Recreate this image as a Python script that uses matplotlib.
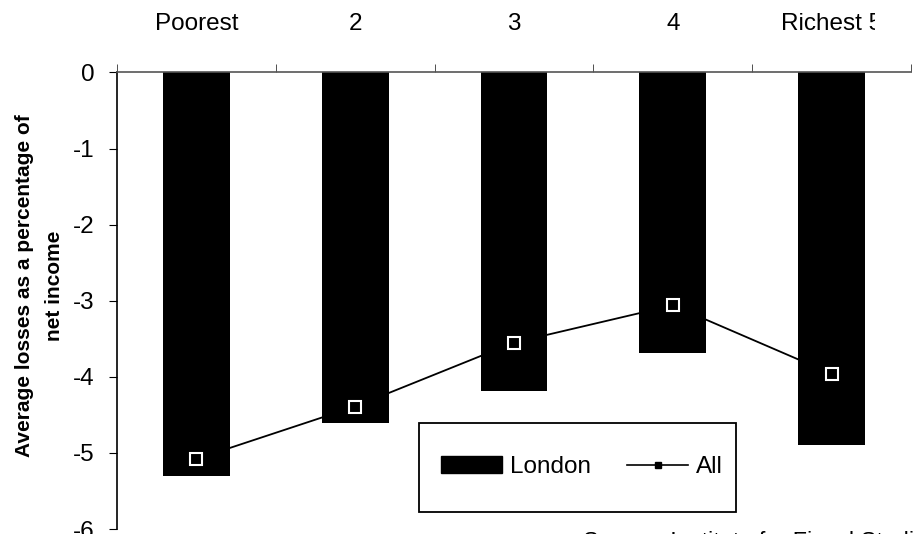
import matplotlib
matplotlib.use("Agg")
import matplotlib.pyplot as plt
from matplotlib.lines import Line2D
from matplotlib.patches import Patch, Rectangle
from matplotlib.transforms import Bbox
import numpy as np

categories = ["Poorest", "2", "3", "4", "Richest 5"]
london = [-5.30, -4.61, -4.18, -3.69, -4.90]
all_hh = [-5.08, -4.39, -3.55, -3.06, -3.96]
yticks = [0, -1, -2, -3, -4, -5, -6]

plt.rcParams['font.family'] = ['Liberation Sans', 'DejaVu Sans']

W, H = 914, 534
fig = plt.figure(figsize=(W / 100, H / 100), dpi=100)
ax = fig.add_axes([117 / W, 1 - 529 / H, 794 / W, (529 - 72.5) / H])

x = np.arange(len(categories))
ax.plot(x, all_hh, color='black', lw=1.3, zorder=1)
ax.bar(x, london, width=0.42, color='black', zorder=2)
ax.plot(x, all_hh, linestyle='none', marker='s', markersize=9,
        markerfacecolor='black', markeredgecolor='white', markeredgewidth=1.5, zorder=3)

ax.set_xlim(-0.5, 4.5)
ax.set_ylim(-6, 0)

ax.xaxis.set_ticks_position('top')
ax.set_xticks(x)
ax.set_xticklabels(categories, fontsize=17.5)
ax.set_xticks(np.arange(-0.5, 5.0, 1.0), minor=True)
ax.tick_params(axis='x', which='major', length=0, pad=27)
ax.tick_params(axis='x', which='minor', length=6, direction='out', color='#333333')

ax.set_yticks(yticks)
ax.set_yticklabels([str(v) for v in yticks], fontsize=17.5)
ax.tick_params(axis='y', length=6, direction='out', pad=10)

for s in ['right', 'bottom']:
    ax.spines[s].set_visible(False)
ax.spines['top'].set_color('#555555')
ax.spines['top'].set_linewidth(1.2)
ax.spines['left'].set_color('black')
ax.spines['left'].set_linewidth(1.2)

# clip the last category label at the right like the reference
for lbl in ax.get_xticklabels():
    lbl.set_clip_box(Bbox.from_extents(0, 0, 875, H))
    lbl.set_clip_on(True)

fig.text(25 / W, 1 - 286 / H, "Average losses as a percentage of",
         rotation=90, ha='center', va='center', fontsize=15, fontweight='bold')
fig.text(55 / W, 1 - 286 / H, "net income",
         rotation=90, ha='center', va='center', fontsize=15, fontweight='bold')

# legend frame
ax.add_patch(Rectangle((0.3804, 0.0372), 0.3992, 0.195, transform=ax.transAxes,
                       facecolor='white', edgecolor='black', lw=1.3, zorder=4))
handles = [Patch(facecolor='black', edgecolor='black', label='London'),
           Line2D([0], [0], color='black', lw=1.2, marker='s', markersize=5,
                  markerfacecolor='black', markeredgecolor='black', label='All')]
leg = ax.legend(handles=handles, loc='center left', ncol=2,
                bbox_to_anchor=((441 - 117) / 794, (529 - 467) / 456.5),
                borderaxespad=0, borderpad=0, frameon=False,
                fontsize=17.5, handlelength=2.5, handletextpad=0.33,
                columnspacing=1.5, handleheight=0.66)
leg.set_zorder(5)

fig.text(583 / W, 1 - 531 / H, "Source: Institute for Fiscal Studies",
         ha='left', va='top', fontsize=16.8)

fig.savefig("out.png", dpi=100)
